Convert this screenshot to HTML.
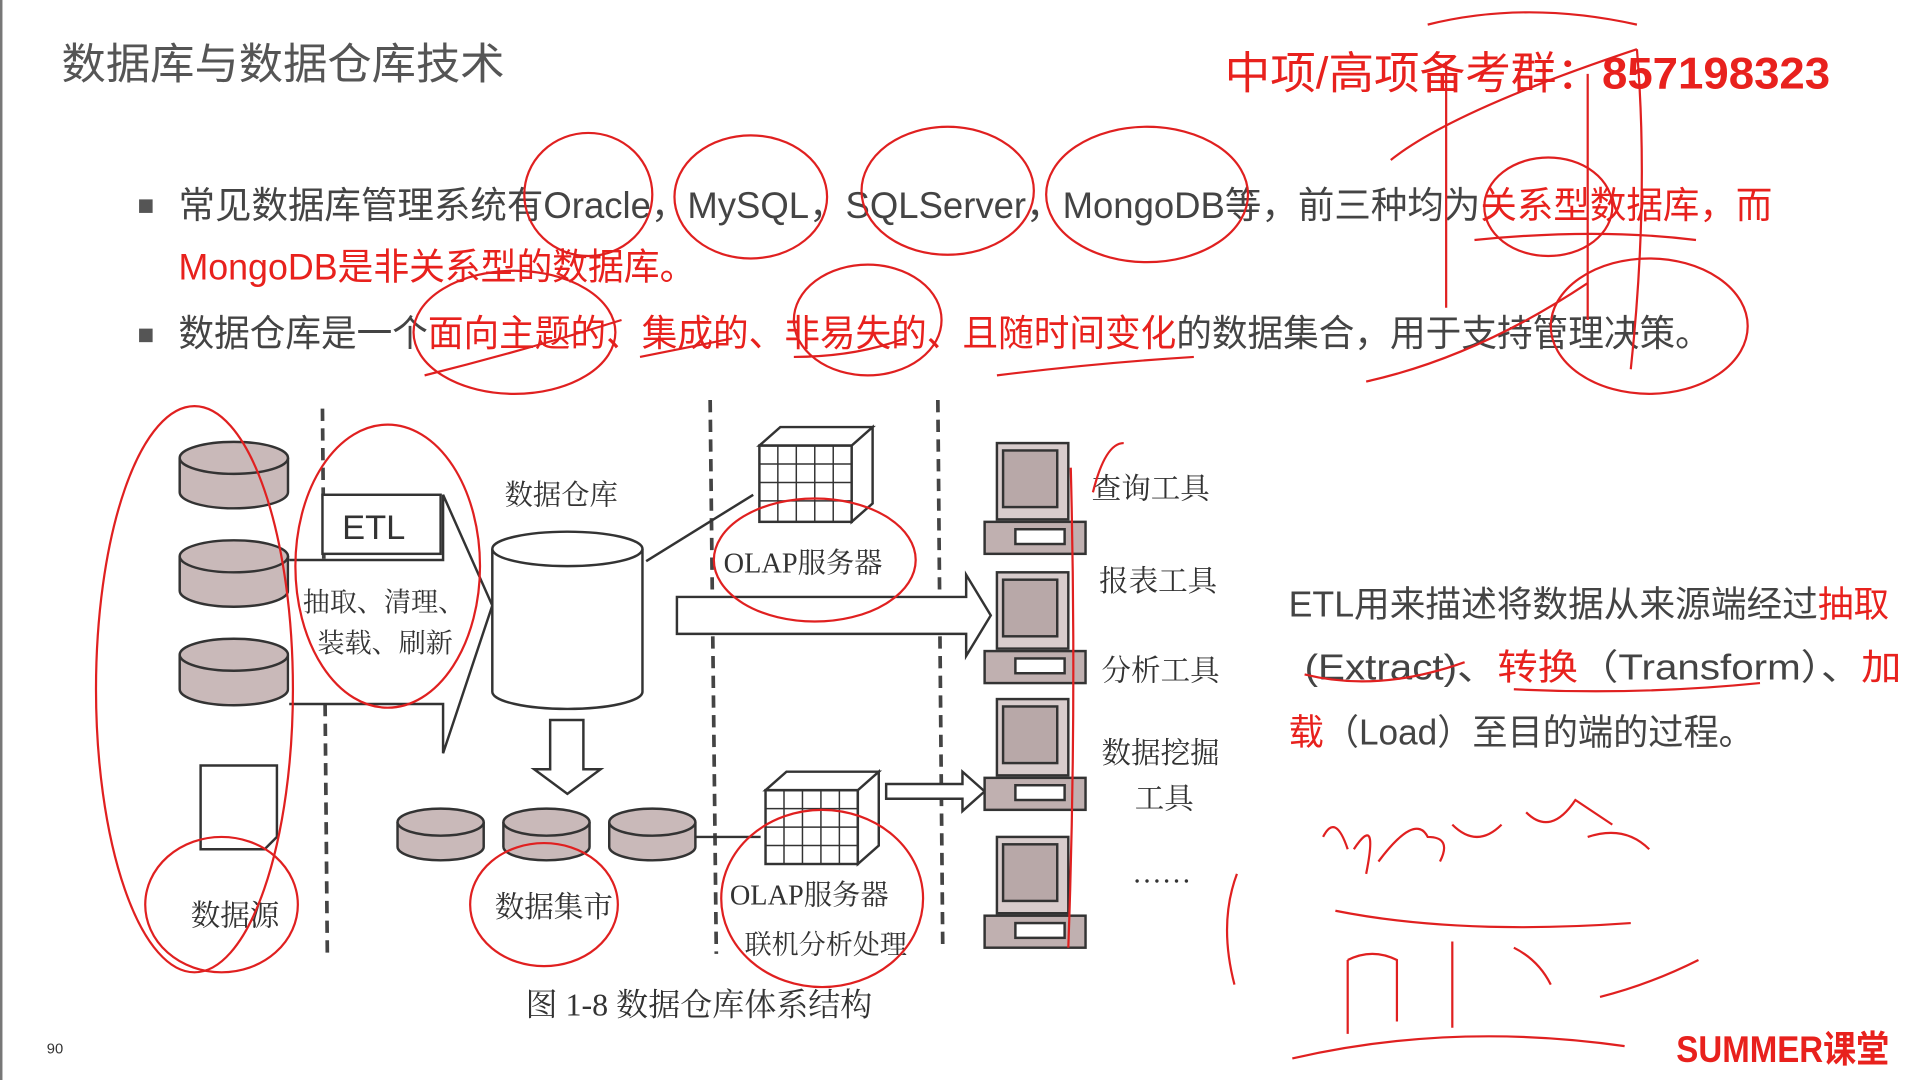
<!DOCTYPE html>
<html><head><meta charset="utf-8"><style>
html,body{margin:0;padding:0;background:#fff;}
svg{display:block;}
text{font-family:"Liberation Sans","Noto Sans CJK SC",sans-serif;}
.serif{font-family:"Liberation Serif","Noto Serif CJK SC",serif;}
</style></head><body>
<svg width="1920" height="1080" viewBox="0 0 1560 877.5" preserveAspectRatio="none" xmlns="http://www.w3.org/2000/svg">
<rect width="1560" height="878" fill="#fff"/>
<line x1="1" y1="0" x2="1" y2="878" stroke="#777" stroke-width="2"/>
<text x="50" y="64" font-size="35" fill="#555" textLength="360" lengthAdjust="spacingAndGlyphs">数据库与数据仓库技术</text>
<text x="995" y="72" font-size="36" fill="#e8211d" textLength="492" lengthAdjust="spacingAndGlyphs">中项/高项备考群：<tspan font-weight="bold">857198323</tspan></text>

<rect x="113" y="162" width="11" height="11" fill="#555"/>
<text x="145" y="177" font-size="30" fill="#444" textLength="1295" lengthAdjust="spacingAndGlyphs">常见数据库管理系统有Oracle，MySQL，SQLServer，MongoDB等，前三种均为<tspan fill="#e8211d">关系型数据库，而</tspan></text>
<text x="145" y="227" font-size="30" fill="#e8211d" textLength="420" lengthAdjust="spacingAndGlyphs">MongoDB是非关系型的数据库。</text>
<rect x="113" y="267" width="11" height="11" fill="#555"/>
<text x="145" y="281" font-size="30" fill="#444" textLength="1245" lengthAdjust="spacingAndGlyphs">数据仓库是一个<tspan fill="#e8211d">面向主题的、集成的、非易失的、且随时间变化</tspan>的数据集合，用于支持管理决策。</text>

<!-- diagram -->
<g stroke="#333" stroke-width="2" fill="#c9b9b9">
 <path d="M146 372 v28 a44 13 0 0 0 88 0 v-28"/><ellipse cx="190" cy="372" rx="44" ry="13"/>
 <path d="M146 452 v28 a44 13 0 0 0 88 0 v-28"/><ellipse cx="190" cy="452" rx="44" ry="13"/>
 <path d="M146 532 v28 a44 13 0 0 0 88 0 v-28"/><ellipse cx="190" cy="532" rx="44" ry="13"/>
 <path d="M323 668 v20 a35 11 0 0 0 70 0 v-20"/><ellipse cx="358" cy="668" rx="35" ry="11"/>
 <path d="M409 668 v20 a35 11 0 0 0 70 0 v-20"/><ellipse cx="444" cy="668" rx="35" ry="11"/>
 <path d="M495 668 v20 a35 11 0 0 0 70 0 v-20"/><ellipse cx="530" cy="668" rx="35" ry="11"/>
</g>
<path d="M163 622 h62 v58 l-10 10 h-52z" fill="#fff" stroke="#333" stroke-width="2"/>
<g stroke="#444" stroke-width="3" stroke-dasharray="10 6">
 <line x1="262" y1="332" x2="266" y2="780"/>
 <line x1="577" y1="325" x2="582" y2="775"/>
 <line x1="762" y1="325" x2="766" y2="772"/>
</g>
<path d="M235 455 H360 V402 L400 492 L360 612 V572 H235" fill="#fff" stroke="#333" stroke-width="2"/>
<rect x="262" y="402" width="96" height="48" fill="#fff" stroke="#333" stroke-width="2"/>
<text x="278" y="438" font-size="28" fill="#333">ETL</text>
<text class="serif" x="246" y="497" font-size="22" fill="#333">抽取、清理、</text>
<text class="serif" x="258" y="530" font-size="22" fill="#333">装载、刷新</text>
<text class="serif" x="410" y="410" font-size="23" fill="#333">数据仓库</text>
<path d="M400 446 V562 a61 14 0 0 0 122 0 V446" fill="#fff" stroke="#333" stroke-width="2"/>
<ellipse cx="461" cy="446" rx="61" ry="14" fill="#fff" stroke="#333" stroke-width="2"/>
<path d="M447 585 h27 v40 h14 l-27 20 l-27 -20 h13z" fill="#fff" stroke="#333" stroke-width="2"/>
<text class="serif" x="155" y="752" font-size="24" fill="#333">数据源</text>
<text class="serif" x="402" y="745" font-size="24" fill="#333">数据集市</text>
<!-- cubes -->
<g fill="#fff" stroke="#333" stroke-width="2">
 <rect x="617" y="362" width="75" height="62"/><path d="M617 362 l17 -15 h75 l-17 15z M692 362 l17 -15 v62 l-17 15z"/>
 <rect x="622" y="642" width="75" height="60"/><path d="M622 642 l17 -15 h75 l-17 15z M697 642 l17 -15 v60 l-17 15z"/>
</g>
<g stroke="#333" stroke-width="1.2">
 <path d="M632 362v62M647 362v62M662 362v62M677 362v62M617 377h75M617 392h75M617 407h75"/>
 <path d="M637 642v60M652 642v60M667 642v60M682 642v60M622 657h75M622 672h75M622 687h75"/>
</g>
<text class="serif" x="588" y="465" font-size="23" fill="#333">OLAP服务器</text>
<text class="serif" x="652" y="508" font-size="23" fill="#333">服务</text>
<path d="M550 485 H785 V467 L805 500 L785 533 V515 H550z" fill="#fff" stroke="#333" stroke-width="2"/>
<line x1="525" y1="456" x2="612" y2="402" stroke="#333" stroke-width="2"/>
<path d="M720 637 h62 v-10 l18 16 l-18 16 v-10 h-62z" fill="#fff" stroke="#333" stroke-width="2"/>
<line x1="565" y1="680" x2="618" y2="680" stroke="#333" stroke-width="2"/>
<text class="serif" x="593" y="735" font-size="23" fill="#333">OLAP服务器</text>
<text class="serif" x="605" y="775" font-size="22" fill="#333">联机分析处理</text>
<!-- computers -->
<g stroke="#333" stroke-width="2">
 <g transform="translate(800,360)"><rect x="10" y="0" width="58" height="62" fill="#d8cccc"/><rect x="15" y="6" width="44" height="46" fill="#b8a8a8"/><rect x="0" y="64" width="82" height="26" fill="#c0b0b0"/><rect x="25" y="70" width="40" height="12" fill="#fff"/></g>
 <g transform="translate(800,465)"><rect x="10" y="0" width="58" height="62" fill="#d8cccc"/><rect x="15" y="6" width="44" height="46" fill="#b8a8a8"/><rect x="0" y="64" width="82" height="26" fill="#c0b0b0"/><rect x="25" y="70" width="40" height="12" fill="#fff"/></g>
 <g transform="translate(800,568)"><rect x="10" y="0" width="58" height="62" fill="#d8cccc"/><rect x="15" y="6" width="44" height="46" fill="#b8a8a8"/><rect x="0" y="64" width="82" height="26" fill="#c0b0b0"/><rect x="25" y="70" width="40" height="12" fill="#fff"/></g>
 <g transform="translate(800,680)"><rect x="10" y="0" width="58" height="62" fill="#d8cccc"/><rect x="15" y="6" width="44" height="46" fill="#b8a8a8"/><rect x="0" y="64" width="82" height="26" fill="#c0b0b0"/><rect x="25" y="70" width="40" height="12" fill="#fff"/></g>
</g>
<g font-size="24" fill="#333">
<text class="serif" x="887" y="405">查询工具</text>
<text class="serif" x="893" y="480">报表工具</text>
<text class="serif" x="895" y="553">分析工具</text>
<text class="serif" x="895" y="620">数据挖掘</text>
<text class="serif" x="922" y="657">工具</text>
<text class="serif" x="920" y="717">……</text>
<text class="serif" x="427" y="825" font-size="26">图 1-8   数据仓库体系结构</text>
</g>
<text x="1047" y="501" font-size="29" fill="#444" textLength="488" lengthAdjust="spacingAndGlyphs">ETL用来描述将数据从来源端经过<tspan fill="#e8211d">抽取</tspan></text>
<text x="1060" y="552" font-size="29" fill="#444" textLength="485" lengthAdjust="spacingAndGlyphs">(Extract)、<tspan fill="#e8211d">转换</tspan>（Transform）、<tspan fill="#e8211d">加</tspan></text>
<text x="1047" y="605" font-size="29" fill="#444" textLength="378" lengthAdjust="spacingAndGlyphs"><tspan fill="#e8211d">载</tspan>（Load）至目的端的过程。</text>
<text x="38" y="856" font-size="12" fill="#333">90</text>
<text x="1362" y="863" font-size="30" font-weight="bold" fill="#e8211d" textLength="173" lengthAdjust="spacingAndGlyphs">SUMMER课堂</text>

<!-- red annotations -->
<g fill="none" stroke="#e02020" stroke-width="1.8">
 <ellipse cx="478" cy="158" rx="52" ry="50"/>
 <ellipse cx="610" cy="160" rx="62" ry="50"/>
 <ellipse cx="770" cy="155" rx="70" ry="52"/>
 <ellipse cx="932" cy="158" rx="82" ry="55"/>
 <ellipse cx="1258" cy="168" rx="52" ry="40"/>
 <path d="M1198 195 q100 -10 180 0"/>
 <ellipse cx="418" cy="270" rx="82" ry="50"/>
 <ellipse cx="705" cy="260" rx="60" ry="45"/>
 <ellipse cx="1340" cy="265" rx="80" ry="55"/>
 <path d="M345 305 q80 -20 160 -45 M520 290 q40 -8 75 -15 M645 290 q50 0 90 -15 M810 305 q80 -10 160 -15"/>
 <ellipse cx="315" cy="460" rx="75" ry="115"/>
 <ellipse cx="158" cy="560" rx="80" ry="230"/>
 <ellipse cx="180" cy="735" rx="62" ry="55"/>
 <ellipse cx="442" cy="735" rx="60" ry="50"/>
 <ellipse cx="662" cy="455" rx="82" ry="50"/>
 <ellipse cx="668" cy="730" rx="82" ry="72"/>
 <path d="M870 380 Q875 575 868 770 M888 400 q10 -40 25 -40 M1005 710 q-15 40 -2 90"/>
 <path d="M1060 548 q60 15 130 -10 M1230 560 q100 5 200 -5"/>
 <path d="M1075 680 q10 -20 20 10 M1100 690 q20 -30 10 20 M1120 700 q30 -40 40 -20 q20 0 10 20 M1180 670 q20 20 40 0 M1240 660 q20 20 40 -10 l30 20 M1290 680 q30 -10 50 10"/>
 <path d="M1085 740 q100 20 240 10 M1095 780 v60 M1095 780 q20 -10 40 0 v50 M1180 765 v70 M1230 770 q20 10 30 30 M1300 810 q40 -10 80 -30 M1050 860 q130 -30 270 -10"/>
 <path d="M1130 130 q50 -40 200 -90 M1160 20 q80 -20 170 0 M1110 310 q90 -20 180 -80 M1175 50 v200 M1290 60 v200 M1330 40 q10 120 -5 260"/>
</g>
</svg>
</body></html>
